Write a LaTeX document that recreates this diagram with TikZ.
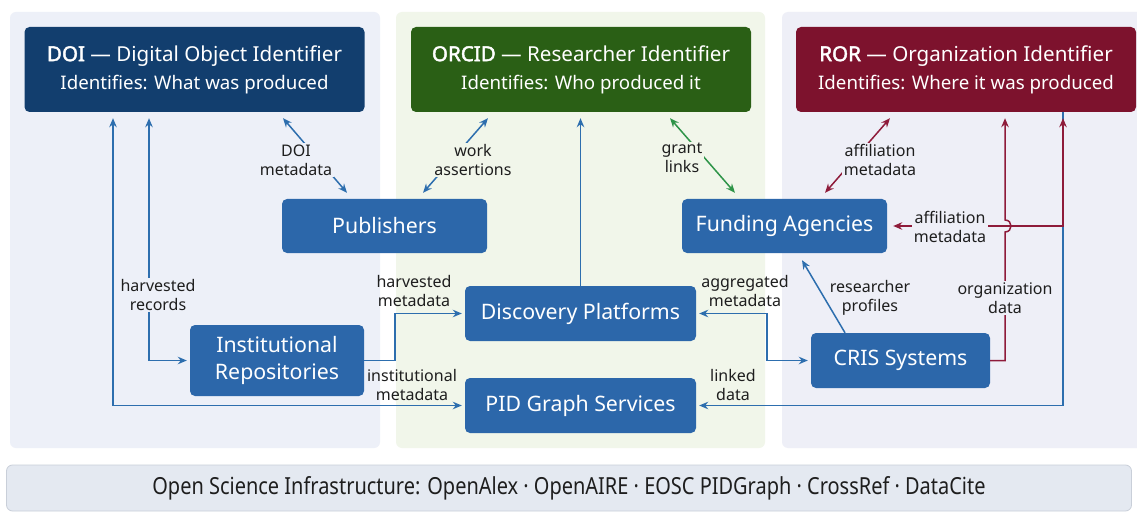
\documentclass[tikz,border=0pt]{standalone}
\usepackage{fontspec}
\setmainfont{Noto Sans}[AutoFakeBold=2.2]
\newfontfamily\condfont{Noto Sans}[FakeStretch=0.85]
\usetikzlibrary{arrows.meta,calc}
\definecolor{panelL}{HTML}{EDF0F8}
\definecolor{panelM}{HTML}{F1F6EA}
\definecolor{panelR}{HTML}{EEEFF7}
\definecolor{barfill}{HTML}{E4E9F1}
\definecolor{bardraw}{HTML}{C9CFD9}
\definecolor{doic}{HTML}{123E6E}
\definecolor{orcidc}{HTML}{2A5F15}
\definecolor{rorc}{HTML}{7D122D}
\definecolor{nodeblue}{HTML}{2C67AA}
\definecolor{lineblue}{HTML}{2D6EAE}
\definecolor{linegreen}{HTML}{2E9448}
\definecolor{linered}{HTML}{8E1B3A}
\definecolor{lbltext}{HTML}{1E1E1E}
\newcommand{\idtitle}[2]{{\fontsize{20.6}{28}\selectfont #1}\\{\fontsize{18.7}{28}\selectfont #2}}
\begin{document}
\begin{tikzpicture}[x=1pt,y=-1pt,
  >={Stealth[length=9pt,width=7.5pt]},
  panel/.style={rounded corners=6pt},
  idbox/.style={rectangle, rounded corners=5pt, minimum width=340pt, minimum height=85pt, inner sep=0pt, text=white, align=center, font=\fontsize{19.5}{28}\selectfont},
  box/.style={rectangle, rounded corners=5pt, fill=nodeblue, text=white, inner sep=0pt, align=center, font=\fontsize{21.3}{27}\selectfont},
  lbl/.style={font=\fontsize{16}{19}\selectfont, align=center, text=lbltext, inner sep=1.5pt},
  bline/.style={draw=lineblue, line width=1.5pt},
  gline/.style={draw=linegreen, line width=1.5pt},
  rline/.style={draw=linered, line width=1.5pt}
]
\useasboundingbox (0,0) rectangle (1137,513);
\fill[white] (0,0) rectangle (1137,513);
% panels
\fill[panelL, panel] (10,12) rectangle (380,448);
\fill[panelM, panel] (396,12) rectangle (765,448);
\fill[panelR, panel] (782,12) rectangle (1150,448);
\node[panel, fill=barfill, draw=bardraw, line width=0.8pt, minimum width=1125pt, minimum height=46pt, inner sep=0pt] (bar) at (569,488) {};
\node[text=lbltext, font=\condfont\fontsize{23.5}{26}\selectfont] (bartext) at (bar.center) {Open Science Infrastructure: OpenAlex · OpenAIRE · EOSC PIDGraph · CrossRef · DataCite};

% identifier boxes
\node[idbox, fill=doic] (doi) at (194.5,69.5) {\idtitle{\textbf{DOI} — Digital Object Identifier}{Identifies: What was produced}};
\node[idbox, fill=orcidc] (orcid) at (581,69.5) {\idtitle{\textbf{ORCID} — Researcher Identifier}{Identifies: Who produced it}};
\node[idbox, fill=rorc] (ror) at (966,69.5) {\idtitle{\textbf{ROR} — Organization Identifier}{Identifies: Where it was produced}};

% service boxes
\node[box, minimum width=205pt, minimum height=54pt] (pub) at (384.5,226) {Publishers};
\node[box, minimum width=205pt, minimum height=54pt] (fund) at (784.5,226) {Funding Agencies};
\node[box, minimum width=231pt, minimum height=55pt] (disc) at (580.5,313.5) {Discovery Platforms};
\node[box, minimum width=231pt, minimum height=55pt] (pid) at (580.5,405.5) {PID Graph Services};
\node[box, minimum width=174pt, minimum height=71pt] (inst) at (277,360.5) {Institutional\\Repositories};
\node[box, minimum width=179pt, minimum height=55pt] (cris) at (900.5,360.5) {CRIS Systems};

% helper x positions
\coordinate (xa) at (113,0);
\coordinate (xb) at (149,0);
\coordinate (xc) at (395,0);
\coordinate (xd) at (767,0);
\coordinate (xe) at (1063,0);
\coordinate (xf) at (1005,0);

% connectors
\draw[bline, <->] ($(doi.south)+(88.5,6)$) -- ($(pub.north)+(-37.5,-6)$);
\draw[bline, <->] ($(orcid.south)+(-93,6)$) -- ($(pub.north)+(38.5,-6)$);
\draw[gline, <->] ($(orcid.south)+(89,6)$) -- ($(fund.north)+(-49.5,-6)$);
\draw[rline, <->] ($(ror.south)+(-76,6)$) -- ($(fund.north)+(40.5,-6)$);
\draw[bline, ->, shorten >=6pt] (disc.north) -- (disc.north |- orcid.south);
\draw[bline, <->, shorten <=6pt, shorten >=3pt] (doi.south -| xa) |- (pid.west);
\draw[bline, <->, shorten <=6pt, shorten >=3pt] (doi.south -| xb) |- (inst.west);
\draw[bline, ->, shorten >=3pt] (inst.east) -- (inst.east -| xc) |- (disc.west);
\draw[bline, <->, shorten <=3pt, shorten >=3pt] (disc.east) -- (disc.east -| xd) |- (cris.west);
\draw[bline, ->, shorten >=3pt] (ror.south -| xe) |- (pid.east);
\draw[rline, <->, shorten <=6pt, shorten >=6pt] (ror.south -| xe) |- (fund.east);
\draw[rline, ->, shorten >=6pt] (cris.east) -- (cris.east -| xf) -- ($(xf |- fund.east)+(0,6)$) .. controls ($(xf |- fund.east)+(8,6)$) and ($(xf |- fund.east)+(8,-6)$) .. ($(xf |- fund.east)+(0,-6)$) -- (ror.south -| xf);
\draw[bline, ->] ($(cris.north)+(-55.5,0)$) -- ($(fund.south)+(17.5,7)$);

% labels
\node[lbl, fill=panelL] (l1) at (296,160) {DOI\\metadata};
\node[lbl, fill=panelM] (l2) at (473,160) {work\\assertions};
\node[lbl, fill=panelM] (l3) at (682,158) {grant\\links};
\node[lbl, fill=panelR] (l4) at (880,160) {affiliation\\metadata};
\node[lbl, fill=panelL] (l5) at (158,295) {harvested\\records};
\node[lbl] (l6) at (414,291) {harvested\\metadata};
\node[lbl] (l7) at (412,385) {institutional\\metadata};
\node[lbl] (l8) at (745,291) {aggregated\\metadata};
\node[lbl] (l9) at (733,385) {linked\\data};
\node[lbl, fill=panelR] (l10) at (950,227) {affiliation\\metadata};
\node[lbl, fill=panelR] (l11) at (1005,298) {organization\\data};
\node[lbl] (l12) at (870,298) {researcher\\profiles};
\end{tikzpicture}
\end{document}
